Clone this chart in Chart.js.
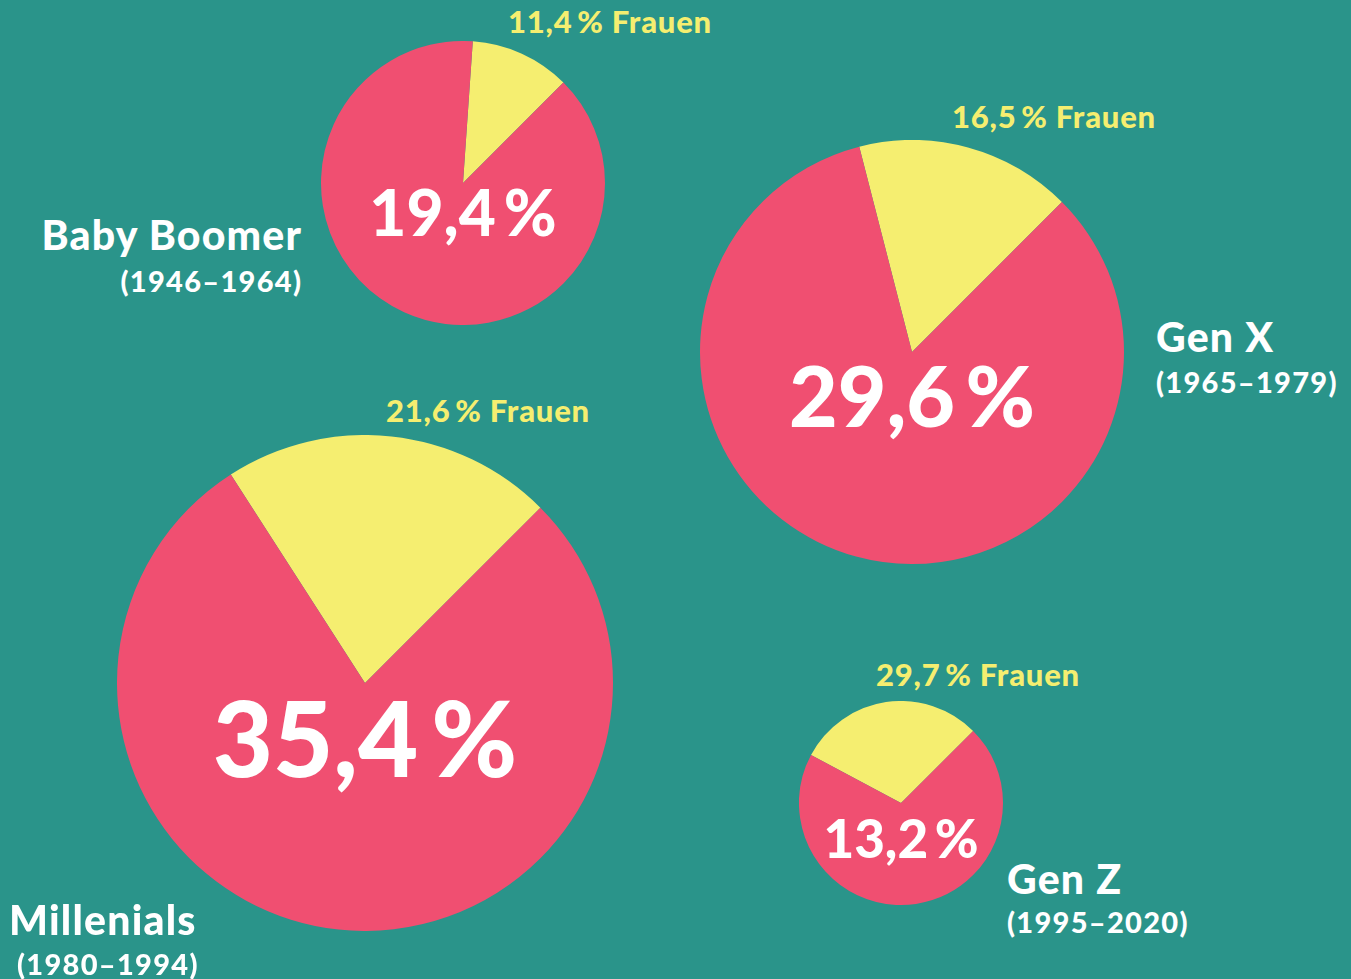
<!DOCTYPE html>
<html lang="de">
<head>
<meta charset="utf-8">
<script src="https://cdn.jsdelivr.net/npm/chart.js@4/dist/chart.umd.min.js"></script>
<style>
  html, body { margin: 0; padding: 0; }
  body { width: 1351px; height: 979px; background: #2A948A; position: relative; overflow: hidden;
         font-family: "Lato", "Open Sans", sans-serif; font-weight: 900; }
  .pie { position: absolute; }
  .lbl { position: absolute; line-height: 1; white-space: nowrap; }
</style>
</head>
<body>
<script>
// ---- data ----
const generations = ["Baby Boomer", "Gen X", "Millenials", "Gen Z"];
const years = ["(1946–1964)", "(1965–1979)", "(1980–1994)", "(1995–2020)"];
const totalShare = [19.4, 29.6, 35.4, 13.2];   // big number in each pie
const womenShare = [11.4, 16.5, 21.6, 29.7];   // yellow slice

// ---- layout / style ----
const COLORS = { bg: "#2A948A", red: "#F04F71", yellow: "#F5EE70", white: "#FFFFFF" };
const layout = [
  { cx: 463, cy: 183, r: 142, pctSize: 64, pctBase: 237,
    frauen: { x: 508, base: 33 }, title: { x: 301, base: 250, align: "right" }, yrs: { x: 301, base: 292, align: "right" } },
  { cx: 912, cy: 352, r: 212, pctSize: 84, pctBase: 428,
    frauen: { x: 952, base: 128 }, title: { x: 1156, base: 352, align: "left" }, yrs: { x: 1156, base: 393, align: "left" } },
  { cx: 365, cy: 683, r: 248, pctSize: 104, pctBase: 777,
    frauen: { x: 386, base: 422 }, title: { x: 9, base: 935, align: "left" }, yrs: { x: 17, base: 975, align: "left" } },
  { cx: 901, cy: 803, r: 102, pctSize: 53, pctBase: 858,
    frauen: { x: 876, base: 686 }, title: { x: 1007, base: 894, align: "left" }, yrs: { x: 1007, base: 933, align: "left" } }
];
const SIZES = { frauen: 31, title: 41, yrs: 29 };
const SPACING = { pct: 0, frauen: 0.8, title: 1.2, yrs: 1.3 };
const BASE_RATIO = 0.887; // baseline offset for line-height:1 (Lato)

const fmt = v => v.toFixed(1).replace(".", ",");

function addLabel(text, x, base, size, color, align, spacing) {
  const d = document.createElement("div");
  d.className = "lbl";
  d.textContent = text;
  d.style.fontSize = size + "px";
  d.style.letterSpacing = spacing + "px";
  d.style.color = color;
  d.style.top = (base - BASE_RATIO * size) + "px";
  document.body.appendChild(d);
  const w = d.getBoundingClientRect().width - spacing;
  let left = x;
  if (align === "right") left = x - w;
  else if (align === "center") left = x - w / 2;
  d.style.left = left + "px";
}

generations.forEach((g, i) => {
  const L = layout[i];
  const box = document.createElement("div");
  box.className = "pie";
  box.style.left = (L.cx - L.r) + "px";
  box.style.top = (L.cy - L.r) + "px";
  box.style.width = (2 * L.r) + "px";
  box.style.height = (2 * L.r) + "px";
  const cv = document.createElement("canvas");
  box.appendChild(cv);
  document.body.appendChild(box);

  new Chart(cv, {
    type: "pie",
    data: {
      labels: ["Frauen", "Männer"],
      datasets: [{
        data: [womenShare[i], 100 - womenShare[i]],
        backgroundColor: [COLORS.yellow, COLORS.red],
        borderWidth: 0,
        hoverOffset: 0
      }]
    },
    options: {
      responsive: true,
      maintainAspectRatio: false,
      animation: false,
      rotation: 45 - womenShare[i] * 3.6,
      layout: { padding: 0 },
      plugins: { legend: { display: false }, tooltip: { enabled: false } },
      events: []
    }
  });

  addLabel(fmt(totalShare[i]) + "\u2009%", L.cx, L.pctBase, L.pctSize, COLORS.white, "center", SPACING.pct);
  addLabel(fmt(womenShare[i]) + "\u2009% Frauen", L.frauen.x, L.frauen.base, SIZES.frauen, COLORS.yellow, "left", SPACING.frauen);
  addLabel(g, L.title.x, L.title.base, SIZES.title, COLORS.white, L.title.align, SPACING.title);
  addLabel(years[i], L.yrs.x, L.yrs.base, SIZES.yrs, COLORS.white, L.yrs.align, SPACING.yrs);
});
</script>
</body>
</html>
